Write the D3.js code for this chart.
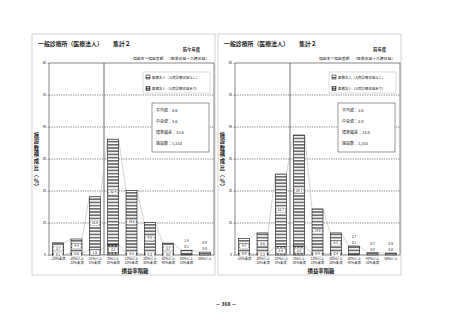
<!DOCTYPE html>
<html>
<head>
<meta charset="utf-8">
<script src="https://cdn.jsdelivr.net/npm/d3@7"></script>
<style>
  body { margin: 0; background: #fff; }
  text { font-family: "Noto Sans CJK JP", "Noto Sans", sans-serif; fill: #222; }
</style>
</head>
<body>
<script>
// loss/profit rate classes, two-line tick labels
const categories = [
  ["-20%未満"], ["-20%以上", "-10%未満"], ["-10%以上", "0%未満"],
  ["0%以上", "10%未満"], ["10%以上", "20%未満"], ["20%以上", "30%未満"],
  ["30%以上", "40%未満"], ["40%以上", "50%未満"], ["50%以上"]
];
const yTicks = [0, 10, 20, 30, 40, 50, 60];

// 前々年度
const prevNoInpatient = [3.7, 4.4, 16.6, 32.9, 19.6, 9.8, 3.7, 1.4, 0.9];
const prevInpatient   = [0.1, 0.6, 1.6, 3.3, 0.5, 0.3, 0.0, 0.1, 0.0];
const prevStats = ["平均値：6.6", "中央値：5.6", "標準偏差：15.6", "施設数：1,310"];

// 前年度
const lastNoInpatient = [4.7, 6.6, 22.7, 34.7, 14.0, 6.5, 2.7, 0.7, 0.6];
const lastInpatient   = [0.4, 0.3, 2.6, 2.8, 0.4, 0.4, 0.1, 0.0, 0.0];
const lastStats = ["平均値：3.0", "中央値：2.8", "標準偏差：15.8", "施設数：1,333"];

const legendLabels = ["医療法人（入院診療収益なし）", "医療法人（入院診療収益あり）"];

const width = 453, height = 320;
const svg = d3.select("body").append("svg")
  .attr("width", width).attr("height", height);

// fill patterns
const defs = svg.append("defs");
const stripes = defs.append("pattern").attr("id", "stripes")
  .attr("patternUnits", "userSpaceOnUse").attr("width", 4).attr("height", 3.2);
stripes.append("rect").attr("width", 4).attr("height", 3.2).attr("fill", "#fff");
stripes.append("rect").attr("width", 4).attr("height", 1.7).attr("fill", "#6e6e6e");

const checks = defs.append("pattern").attr("id", "checks")
  .attr("patternUnits", "userSpaceOnUse").attr("width", 2).attr("height", 2)
  .attr("patternTransform", "rotate(45)");
checks.append("rect").attr("width", 2).attr("height", 2).attr("fill", "#fff");
checks.append("rect").attr("width", 1).attr("height", 1).attr("fill", "#111");
checks.append("rect").attr("x", 1).attr("y", 1).attr("width", 1).attr("height", 1).attr("fill", "#111");

function drawPanel(ox, yearLabel, noInp, inp, stats) {
  const g = svg.append("g").attr("transform", `translate(${ox},0)`);

  g.append("rect").attr("x", 0).attr("y", 34).attr("width", 183).attr("height", 241)
    .attr("fill", "#fff").attr("stroke", "#c8c8c8").attr("stroke-width", 0.8);

  g.append("text").attr("x", 6).attr("y", 46).attr("font-size", 5.9).attr("font-weight", "bold")
    .text("一般診療所（医療法人）");
  g.append("text").attr("x", 81).attr("y", 46).attr("font-size", 5.9).attr("font-weight", "bold")
    .text("集計２");
  g.append("text").attr("x", 168).attr("y", 51).attr("font-size", 4.3).attr("font-weight", "bold")
    .attr("text-anchor", "end").text(yearLabel);
  g.append("text").attr("x", 177).attr("y", 60).attr("font-size", 3.8)
    .attr("text-anchor", "end").text("損益率＝損益差額／（医業収益＋介護収益）");

  const x = d3.scaleBand().domain(d3.range(categories.length))
    .range([17, 182]).paddingInner(0.4).paddingOuter(0.2);
  const y = d3.scaleLinear().domain([0, 60]).range([255, 63]);

  // gridlines
  g.append("g").selectAll("line").data(yTicks.filter(t => t > 0 && t < 60)).join("line")
    .attr("x1", 17).attr("x2", 182).attr("y1", d => y(d)).attr("y2", d => y(d))
    .attr("stroke", "#444").attr("stroke-width", 0.6).attr("stroke-dasharray", "1.4,1");

  g.append("rect").attr("x", 17).attr("y", y(60)).attr("width", 165).attr("height", y(0) - y(60))
    .attr("fill", "none").attr("stroke", "#555").attr("stroke-width", 0.7);

  const yAxis = g.append("g").attr("transform", "translate(17,0)")
    .call(d3.axisLeft(y).tickValues(yTicks).tickSize(1.5).tickPadding(1.5));
  yAxis.select(".domain").remove();
  yAxis.selectAll("line").attr("stroke", "#555").attr("stroke-width", 0.5);
  yAxis.selectAll("text").attr("font-size", 3).attr("font-family", null);

  // zero boundary line
  const step = x.step();
  const zeroX = x(3) - (step - x.bandwidth()) / 2;
  g.append("line").attr("x1", zeroX).attr("x2", zeroX).attr("y1", y(60)).attr("y2", y(0))
    .attr("stroke", "#333").attr("stroke-width", 0.7);

  const totals = noInp.map((v, i) => v + inp[i]);

  // series lines between bar tops
  const seriesLine = (vals) => {
    for (let i = 0; i < vals.length - 1; i++) {
      g.append("line").attr("x1", x(i) + x.bandwidth()).attr("y1", y(vals[i]))
        .attr("x2", x(i + 1)).attr("y2", y(vals[i + 1]))
        .attr("stroke", "#aaa").attr("stroke-width", 0.5);
    }
  };
  seriesLine(inp);
  seriesLine(totals);

  // bars
  g.append("g").selectAll("rect").data(inp).join("rect")
    .attr("x", (d, i) => x(i)).attr("width", x.bandwidth())
    .attr("y", d => y(d)).attr("height", d => y(0) - y(d))
    .attr("fill", "url(#checks)").attr("stroke", "#111").attr("stroke-width", 0.5);
  g.append("g").selectAll("rect").data(noInp).join("rect")
    .attr("x", (d, i) => x(i)).attr("width", x.bandwidth())
    .attr("y", (d, i) => y(totals[i])).attr("height", d => y(0) - y(d))
    .attr("fill", "url(#stripes)").attr("stroke", "#111").attr("stroke-width", 0.6);

  // value labels
  const boxLabel = (cx, cy, txt) => {
    g.append("rect").attr("x", cx - 4.5).attr("y", cy - 2.4).attr("width", 9).attr("height", 4.8)
      .attr("fill", "#fff").attr("stroke", "#999").attr("stroke-width", 0.3);
    g.append("text").attr("x", cx).attr("y", cy + 1.1).attr("font-size", 3.2)
      .attr("text-anchor", "middle").text(txt);
  };
  noInp.forEach((v, i) => {
    const cx = x(i) + x.bandwidth() / 2;
    if (totals[i] >= 3.5) {
      boxLabel(cx, Math.min(y(inp[i] + v / 2), y(0) - 6.5), v.toFixed(1));
      boxLabel(cx, Math.min(y(inp[i] / 2), y(0) - 0.5), inp[i].toFixed(1));
    } else {
      g.append("text").attr("x", cx).attr("y", y(totals[i]) - 8).attr("font-size", 3.2)
        .attr("text-anchor", "middle").text(v.toFixed(1));
      g.append("text").attr("x", cx).attr("y", y(totals[i]) - 2).attr("font-size", 3.2)
        .attr("text-anchor", "middle").text(inp[i].toFixed(1));
    }
  });

  // x tick labels
  categories.forEach((lines, i) => {
    const t = g.append("text").attr("x", x(i) + x.bandwidth() / 2).attr("y", 259.5)
      .attr("font-size", 3.3).attr("text-anchor", "middle");
    lines.forEach((s, k) => t.append("tspan").attr("x", x(i) + x.bandwidth() / 2)
      .attr("dy", k ? 4.6 : 0).text(s));
  });

  g.append("text").attr("x", 103).attr("y", 273).attr("font-size", 5.4).attr("font-weight", "bold")
    .attr("text-anchor", "middle").text("損益率階級");

  // vertical y label, one text in vertical writing mode
  g.append("text").attr("x", 4.5).attr("y", 132)
    .style("writing-mode", "vertical-rl")
    .attr("font-size", 5.3).attr("font-weight", "bold").attr("letter-spacing", 1.3)
    .text("施設数構成比（％）");

  // legend
  g.append("rect").attr("x", 111).attr("y", 72).attr("width", 67).attr("height", 21)
    .attr("fill", "#fff").attr("stroke", "#bbb").attr("stroke-width", 0.5);
  legendLabels.forEach((s, k) => {
    g.append("rect").attr("x", 114).attr("y", 75 + k * 11.5).attr("width", 4).attr("height", 4)
      .attr("fill", k ? "url(#checks)" : "url(#stripes)").attr("stroke", "#111").attr("stroke-width", 0.5);
    g.append("text").attr("x", 120).attr("y", 78.5 + k * 11.5).attr("font-size", 3.4).text(s);
  });

  // stats box
  g.append("rect").attr("x", 120).attr("y", 103).attr("width", 57).attr("height", 49)
    .attr("fill", "#fff").attr("stroke", "#555").attr("stroke-width", 0.6);
  stats.forEach((s, k) => {
    g.append("text").attr("x", 124).attr("y", 111.5 + k * 11.2).attr("font-size", 4).text(s);
  });
}

drawPanel(32, "前々年度", prevNoInpatient, prevInpatient, prevStats);
drawPanel(218, "前年度", lastNoInpatient, lastInpatient, lastStats);

svg.append("text").attr("x", 226).attr("y", 306).attr("font-size", 5).attr("font-weight", "bold")
  .attr("text-anchor", "middle").text("－ 368 －");
</script>
</body>
</html>
